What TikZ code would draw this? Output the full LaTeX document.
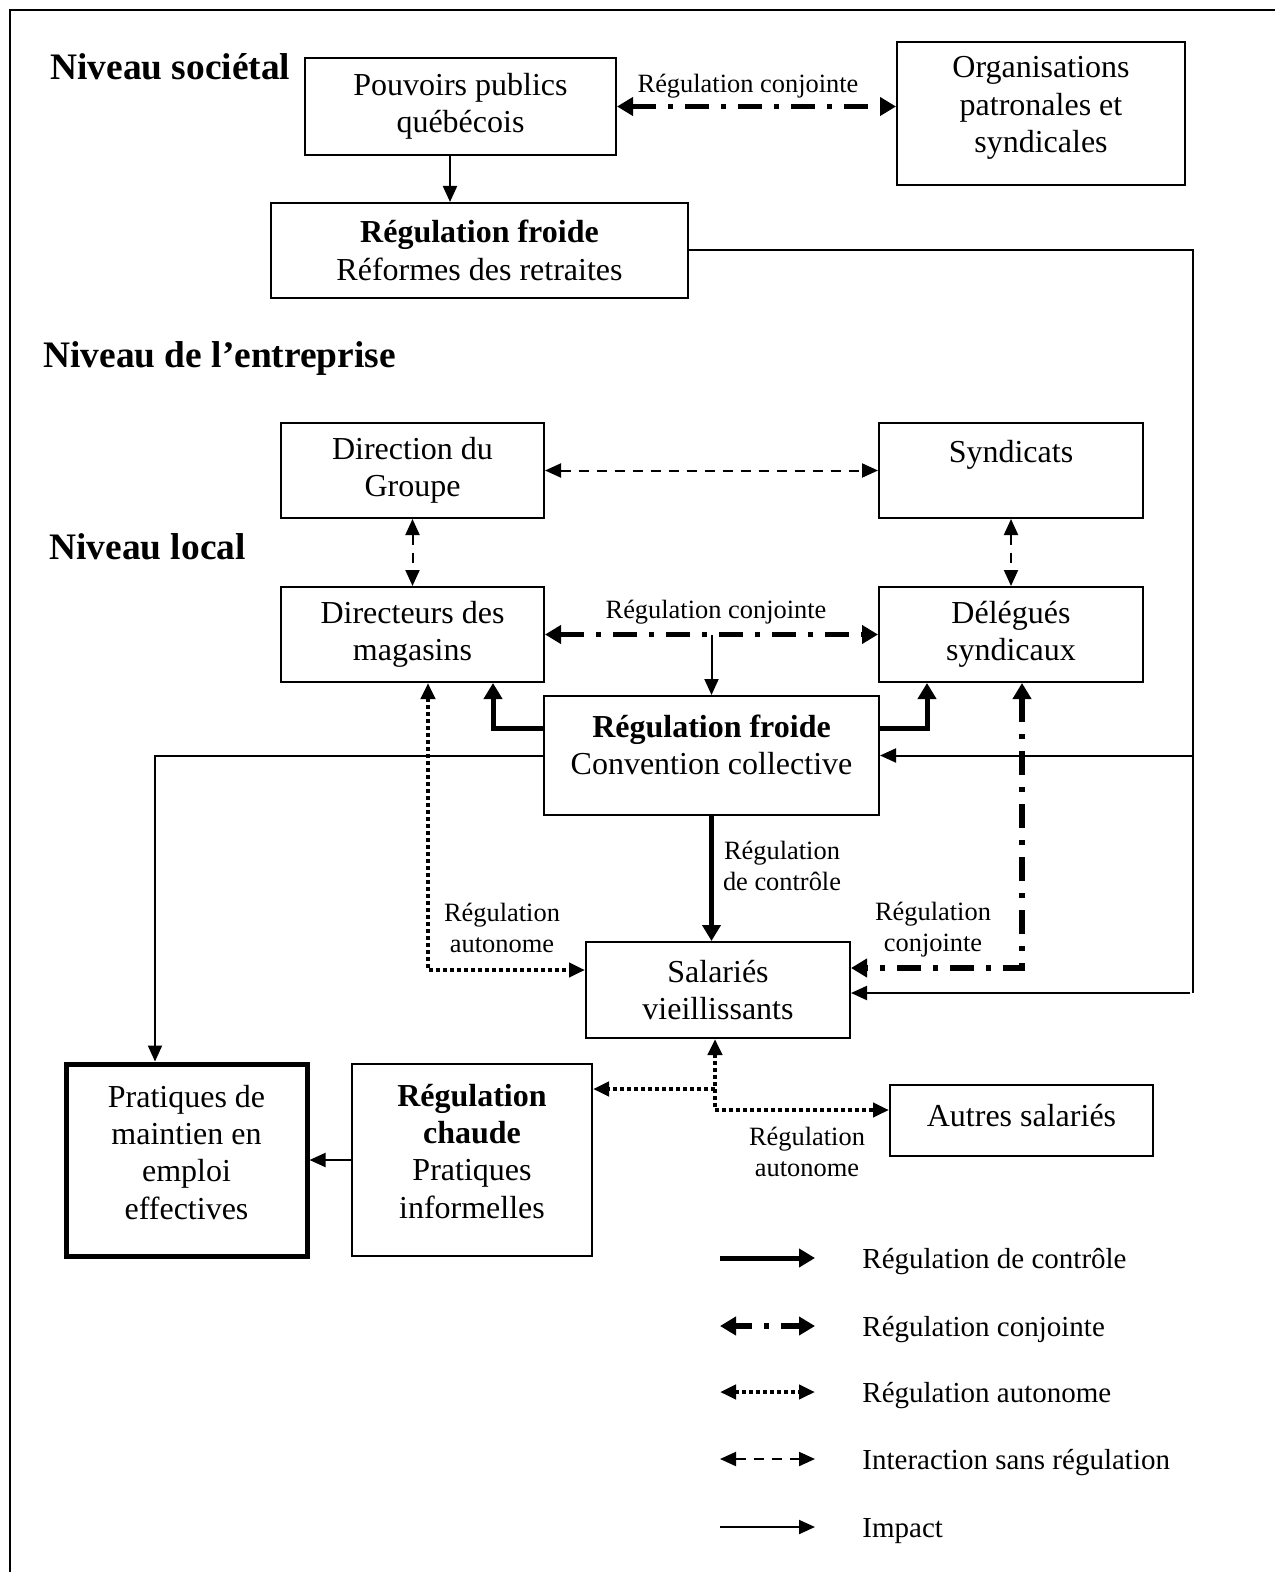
\documentclass[tikz,border=0pt]{standalone}
\usepackage{fontspec}
\setmainfont{Liberation Serif}
\usetikzlibrary{arrows.meta,calc}
\tikzset{
  tipS/.tip={Triangle[length=8pt,width=7pt]},
  tipB/.tip={Triangle[length=8pt,width=9pt]},
  box/.style={draw,line width=1pt,align=center,inner sep=0pt,font=\fontsize{16}{18.7}\selectfont},
  lbl/.style={align=center,inner sep=0pt,font=\fontsize{13.2}{15.5}\selectfont},
  lvl/.style={anchor=base west,inner sep=0pt,font=\bfseries\fontsize{18.7}{22}\selectfont},
  leg/.style={anchor=base west,inner sep=0pt,font=\fontsize{14.5}{17}\selectfont},
  impact/.style={line width=1pt,-tipS},
  ctrl/.style={line width=2.5pt,-tipB},
  conj/.style={line width=2.75pt,dash pattern=on 12pt off 6pt on 2.5pt off 6pt,tipB-tipB},
  auton/.style={line width=2pt,dash pattern=on 2pt off 1.5pt,tipS-tipS},
  inter/.style={line width=1pt,dash pattern=on 5pt off 4pt,tipS-tipS},
}
\begin{document}
\begin{tikzpicture}[x=0.5pt,y=-0.5pt]
\useasboundingbox (0,0) rectangle (1275,1572);
\draw[line width=1pt] (10,1572) -- (10,10) -- (1275,10);

% level headings
\node[lvl] (nsoc) at (50,80) {Niveau sociétal};
\node[lvl] (nent) at (43,368) {Niveau de l’entreprise};
\node[lvl] (nloc) at (49,559) {Niveau local};

% boxes
\node[box,minimum width=155.5pt,minimum height=48.5pt] (pouv) at (460.5,106.5) {Pouvoirs publics\\québécois};
\node[box,minimum width=144pt,minimum height=71.5pt] (org) at (1041,113.5) {Organisations\\patronales et\\syndicales\rule[-9pt]{0pt}{0pt}};
\node[box,minimum width=208.5pt,minimum height=47.5pt] (ref) at (479.5,250.5) {\textbf{Régulation froide}\\Réformes des retraites};
\node[box,minimum width=131.5pt,minimum height=47.5pt] (dir) at (412.5,470.5) {Direction du\\Groupe};
\node[box,minimum width=132pt,minimum height=47.5pt] (syn) at (1011,470.5) {Syndicats\\\mbox{}};
\node[box,minimum width=131.5pt,minimum height=47.5pt] (dirm) at (412.5,634.5) {Directeurs des\\magasins};
\node[box,minimum width=132pt,minimum height=47.5pt] (del) at (1011,634.5) {Délégués\\syndicaux};
\node[box,minimum width=167.5pt,minimum height=59.5pt] (conv) at (711.5,755.5) {\textbf{Régulation froide}\\Convention collective\rule[-11pt]{0pt}{0pt}};
\node[box,minimum width=132pt,minimum height=48pt] (sal) at (718,990) {Salariés\\vieillissants};
\node[box,line width=2.5pt,minimum width=120.5pt,minimum height=96pt] (pm) at (186.5,1160) {Pratiques de\\maintien en\\emploi\\effectives\rule[-8pt]{0pt}{0pt}};
\node[box,minimum width=120pt,minimum height=96pt] (chaude) at (472,1160) {\textbf{Régulation}\\\textbf{chaude}\\Pratiques\\informelles\rule[-9pt]{0pt}{0pt}};
\node[box,minimum width=131.5pt,minimum height=35.5pt] (autres) at (1021.5,1120.5) {Autres salariés\rule[-5pt]{0pt}{0pt}};

% connector labels
\node[lbl] (l1) at (748,86) {Régulation conjointe};
\node[lbl] (l2) at (716,612) {Régulation conjointe};
\node[lbl] (l3) at (782,866) {Régulation\\de contrôle};
\node[lbl] (l4) at (502,928) {Régulation\\autonome};
\node[lbl] (l5) at (933,930) {Régulation\\conjointe};
\node[lbl] (l6) at (807,1152) {Régulation\\autonome};

% societal level
\path ($(pouv.south)+(-10.5,0)$) coordinate (c1);
\draw[impact] (c1) -- (c1 |- ref.north);
\draw[conj] (pouv.east) -- (pouv.east -| org.west);

% long right line from reforms
\coordinate (rc) at (1193,250.5);
\coordinate (rb) at (1193,993);
\draw[line width=1pt] (ref.east) -- (ref.east -| rc) -- (rb);
\draw[impact] (conv.east -| rc) -- (conv.east);
\draw[impact] ([xshift=-1.5pt]rb) -- (rb -| sal.east);

% enterprise level
\draw[inter] (dir.east) -- (syn.west);
\draw[inter] (dir.south) -- (dirm.north);
\draw[inter] (syn.south) -- (del.north);

% local level
\draw[conj] (dirm.east) -- (del.west);
\draw[impact] ($(dirm.east)!0.5!(del.west)$) -- (conv.north);
\draw[ctrl] ($(conv.west)+(0,-27.5)$) -| ($(dirm.south)+(80.5,0)$);
\draw[ctrl] ($(conv.east)+(0,-27.5)$) -| ($(del.south)+(-84,0)$);
\draw[impact] (conv.west) -| ($(pm.north)+(-31.5,0)$);
\draw[auton] ($(dirm.south)+(15.5,0)$) |- ($(sal.west)+(0,-20)$);
\draw[ctrl] (conv.south) -- (conv.south |- sal.north);
\draw[conj] ($(del.south)+(11,0)$) |- ($(sal.east)+(0,-22)$);

% around aged employees
\path ($(sal.south)+(-3,50)$) coordinate (br);
\draw[auton] ($(sal.south)+(-3,0)$) |- ($(autres.west)+(0,-10.5)$);
\draw[line width=2pt,dash pattern=on 2pt off 1.5pt,-tipS] (br) -- (br -| chaude.east);
\draw[impact] (chaude.west) -- (pm.east);

% legend
\coordinate (g1a) at (720,1258); \coordinate (g1b) at (815,1258);
\coordinate (g2a) at (720,1326); \coordinate (g2b) at (815,1326);
\coordinate (g3a) at (720,1392); \coordinate (g3b) at (815,1392);
\coordinate (g4a) at (720,1459); \coordinate (g4b) at (815,1459);
\coordinate (g5a) at (720,1527); \coordinate (g5b) at (815,1527);
\draw[ctrl] (g1a) -- (g1b);
\draw[conj,dash phase=3.5pt] (g2a) -- (g2b);
\draw[auton] (g3a) -- (g3b);
\draw[inter] (g4a) -- (g4b);
\draw[impact] (g5a) -- (g5b);
\node[leg] (t1) at (862,1268) {Régulation de contrôle};
\node[leg] (t2) at (862,1336) {Régulation conjointe};
\node[leg] (t3) at (862,1402) {Régulation autonome};
\node[leg] (t4) at (862,1469) {Interaction sans régulation};
\node[leg] (t5) at (862,1537) {Impact};
\end{tikzpicture}
\end{document}
